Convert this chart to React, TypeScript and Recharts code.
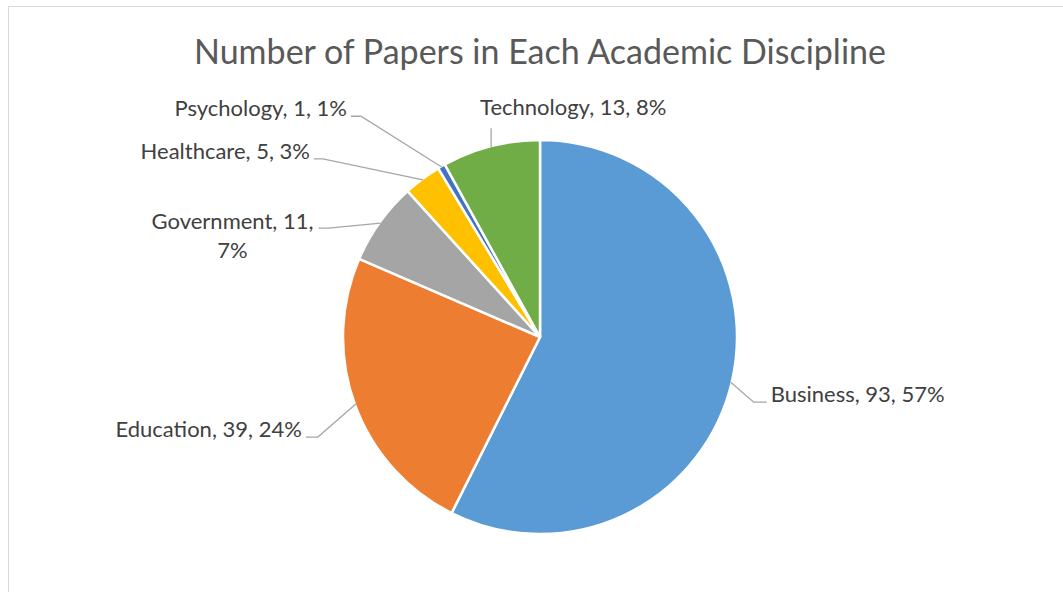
import { PieChart, Pie, Cell } from "recharts";

const disciplines = [
  "Business",
  "Education",
  "Government",
  "Healthcare",
  "Psychology",
  "Technology",
];
const paperCounts = [93, 39, 11, 5, 1, 13];

const COLORS = ["#5B9BD5", "#ED7D31", "#A5A5A5", "#FFC000", "#4472C4", "#70AD47"];

// leader line layout: elbow offset from the slice edge, horizontal run, text placement
const LABEL_LAYOUT = [
  { ex: 23, ey: 20, run: 13 },
  { ex: -38, ey: 33, run: -12 },
  { ex: -52, ey: 5, run: -10, wrapAt: 2, blockWidth: 164 },
  { ex: -100, ey: -21, run: -9 },
  { ex: -81, ey: -51, run: -10 },
  { ex: 0, ey: -19, run: 0, tx: -11, ty: -13 },
];

const data = disciplines.map((name, i) => ({ name, value: paperCounts[i] }));

const RADIAN = Math.PI / 180;
const FONT = "Lato, 'Open Sans', sans-serif";
const LABEL_SIZE = 22;

const renderLabel = (props: any) => {
  const { cx, cy, midAngle, outerRadius, index, name, value, percent } = props;
  const layout = LABEL_LAYOUT[index];
  const sx = cx + (outerRadius - 1) * Math.cos(-midAngle * RADIAN);
  const sy = cy + (outerRadius - 1) * Math.sin(-midAngle * RADIAN);
  const mx = sx + layout.ex;
  const my = sy + layout.ey;
  const endX = mx + layout.run;
  const text = `${name}, ${value}, ${Math.round(percent * 100)}%`;
  const points =
    layout.run !== 0 ? `${sx},${sy} ${mx},${my} ${endX},${my}` : `${sx},${sy} ${mx},${my}`;

  let textNode;
  if (layout.wrapAt) {
    const parts = text.split(" ");
    const line1 = parts.slice(0, layout.wrapAt).join(" ");
    const line2 = parts.slice(layout.wrapAt).join(" ");
    const centerX = endX - 4 - layout.blockWidth / 2;
    textNode = (
      <text fill="#404040" fontSize={LABEL_SIZE} fontFamily={FONT} textAnchor="middle">
        <tspan x={centerX} y={my + 1}>{line1}</tspan>
        <tspan x={centerX} y={my + 30}>{line2}</tspan>
      </text>
    );
  } else if (layout.tx !== undefined) {
    textNode = (
      <text x={mx + layout.tx} y={my + layout.ty} fill="#404040" fontSize={LABEL_SIZE} fontFamily={FONT} textAnchor="start">
        {text}
      </text>
    );
  } else {
    const right = layout.run > 0;
    textNode = (
      <text
        x={endX + (right ? 4 : -4)}
        y={my}
        fill="#404040"
        fontSize={LABEL_SIZE}
        fontFamily={FONT}
        textAnchor={right ? "start" : "end"}
      >
        {text}
      </text>
    );
  }

  return (
    <g>
      <polyline points={points} fill="none" stroke="#A6A6A6" strokeWidth={1.3} />
      {textNode}
    </g>
  );
};

const App = () => {
  return (
    <div
      style={{
        position: "absolute",
        left: 8,
        top: 6,
        width: 1055,
        height: 586,
        borderTop: "1px solid #D9D9D9",
        borderLeft: "1px solid #D9D9D9",
        boxSizing: "border-box",
        background: "#fff",
        overflow: "hidden",
      }}
    >
      <div
        style={{
          position: "absolute",
          left: 0,
          top: 26,
          width: 1062,
          textAlign: "center",
          fontFamily: FONT,
          fontSize: 34,
          lineHeight: "36px",
          color: "#595959",
        }}
      >
        Number of Papers in Each Academic Discipline
      </div>
      <PieChart width={1054} height={585} margin={{ top: 0, right: 0, bottom: 0, left: 0 }}>
        <Pie
          data={data}
          dataKey="value"
          nameKey="name"
          cx={531}
          cy={330}
          outerRadius={197}
          startAngle={90}
          endAngle={-270}
          stroke="#FFFFFF"
          strokeWidth={2.5}
          label={renderLabel}
          labelLine={false}
          isAnimationActive={false}
        >
          {data.map((_, index) => (
            <Cell key={index} fill={COLORS[index % COLORS.length]} />
          ))}
        </Pie>
      </PieChart>
    </div>
  );
};

export default App;
